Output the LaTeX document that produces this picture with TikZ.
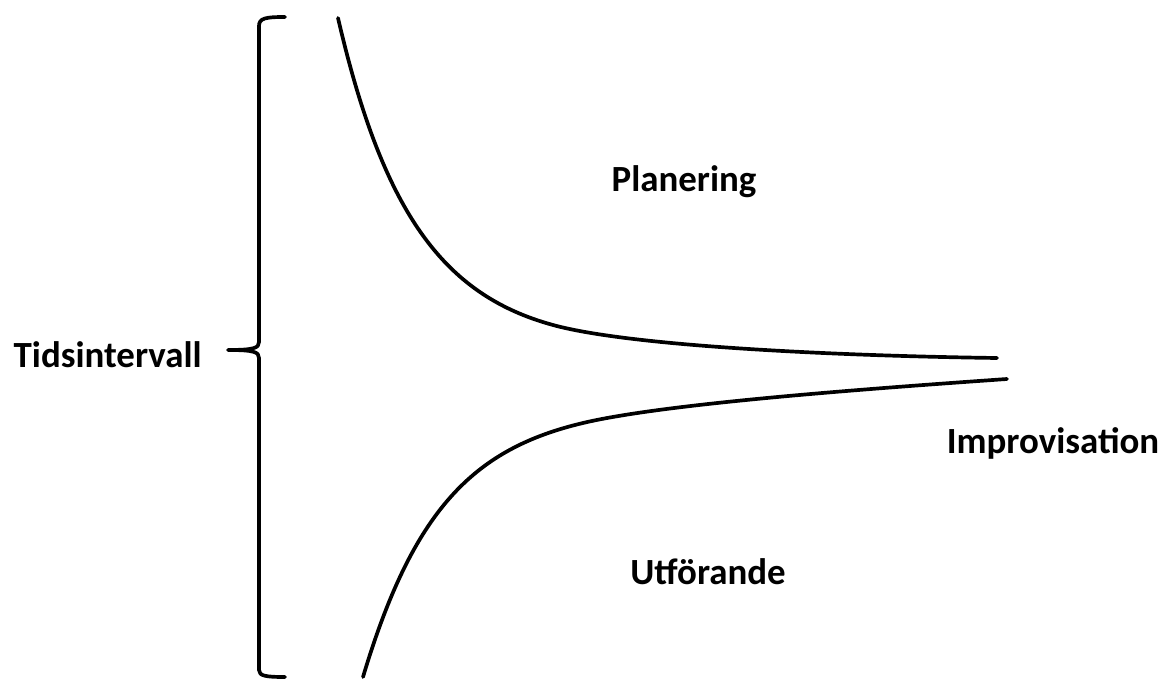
\documentclass[tikz,border=0pt]{standalone}
\usepackage{fontspec}
\setmainfont{Carlito}
\usetikzlibrary{positioning}
\tikzset{
  lbl/.style      = {font=\fontsize{21}{25}\selectfont\bfseries, inner sep=0pt},
  curveline/.style= {black, line width=2.1pt, line cap=round},
  bracket/.style  = {black, line width=2.1pt, line cap=round, line join=round},
}

\begin{document}
\begin{tikzpicture}[x=0.02cm,y=0.02cm]
  \useasboundingbox (0,0) rectangle (1164,680);
  % brace
  \coordinate (bracetip) at (228,330);
  \draw[bracket] (285,663) .. controls (266,663) and (259,662) .. (259,654)
    -- (259,338) .. controls (259,332) and (254,330) .. (bracetip)
    .. controls (254,330) and (259,328) .. (259,322)
    -- (259,10) .. controls (259,4) and (266,3) .. (285,3);
  \node[lbl, left=0.52cm of bracetip, yshift=-0.1cm] (tids) {Tidsintervall};
  % curves
  \draw[curveline] (338,662) .. controls (383,468) and (443,385) .. (553,355)
    .. controls (633,333) and (847,324) .. (997,322);
  \draw[curveline] (363,3) .. controls (413,170) and (473,231) .. (583,257)
    .. controls (663,276) and (857,290.5) .. (1007,301);
  % regions
  \node[lbl] (planering) at (684,498) {Planering};
  \node[lbl] (utforande) at (708,108) {Utförande};
  \node[lbl] (improv) at (1053,237) {Improvisation};
\end{tikzpicture}
\end{document}
